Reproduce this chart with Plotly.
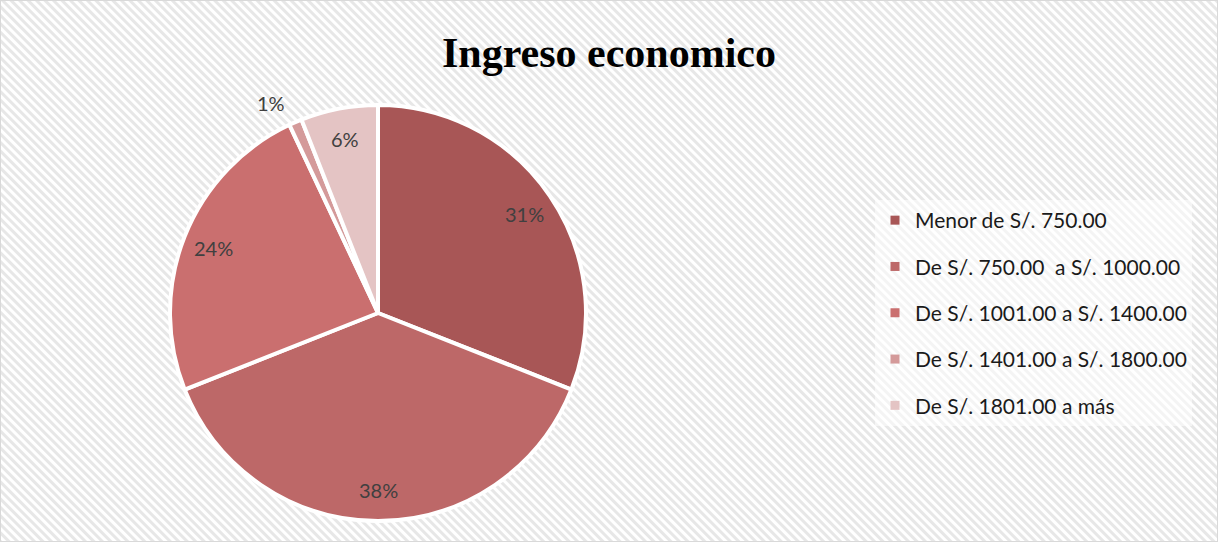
import base64
import numpy as np
import plotly.graph_objects as go

# Income brackets and their share of respondents (%)
categories = [
    "Menor de S/. 750.00",
    "De S/. 750.00  a S/. 1000.00",
    "De S/. 1001.00 a S/. 1400.00",
    "De S/. 1401.00 a S/. 1800.00",
    "De S/. 1801.00 a más",
]
shares = [31, 38, 24, 1, 6]

slice_colors = ["#A85656", "#BD6868", "#CA6F6F", "#D49A9A", "#E4C4C4"]

W, H = 1218, 542

# Pie placement in pixels (centre and radius)
CX, CY, R = 378, 313, 208

# Light diagonal hatch used as the chart background
hatch_svg = f"""<svg xmlns='http://www.w3.org/2000/svg' width='{W}' height='{H}'>
<defs><pattern id='h' width='6' height='6' patternUnits='userSpaceOnUse' patternTransform='rotate(-45)'>
<rect width='6' height='6' fill='#FFFFFF'/><rect width='3' height='6' fill='#E7E7E7'/></pattern></defs>
<rect width='{W}' height='{H}' fill='url(#h)'/></svg>"""
hatch_uri = "data:image/svg+xml;base64," + base64.b64encode(hatch_svg.encode()).decode()

fig = go.Figure()

fig.add_trace(go.Pie(
    labels=categories,
    values=shares,
    sort=False,
    direction="clockwise",
    rotation=0,
    marker=dict(colors=slice_colors, line=dict(color="#FFFFFF", width=4)),
    textinfo="none",
    domain=dict(x=[(CX - R) / W, (CX + R) / W], y=[(H - CY - R) / H, (H - CY + R) / H]),
    showlegend=False,
    hoverinfo="label+percent",
))

# Percentage labels placed along each slice's mid-angle
total = sum(shares)
cum = np.cumsum([0] + shares[:-1])
label_font = dict(family="Lato, Open Sans, sans-serif", size=20, color="#404040")
annotations = []
for start, v in zip(cum, shares):
    theta = np.deg2rad((start + v / 2) / total * 360)
    pct = f"{round(v / total * 100)}%"
    if v / total < 0.03:
        f, xanchor = 1.1, "right"
    else:
        f, xanchor = 0.85, "center"
    px = CX + R * f * np.sin(theta)
    py = CY - R * f * np.cos(theta)
    annotations.append(dict(
        text=pct, x=px / W, y=(H - py) / H, xref="paper", yref="paper",
        xanchor=xanchor, yanchor="middle", showarrow=False, font=label_font,
    ))

# Legend entries, one per bracket, in the slice colours
for name, color in zip(categories, slice_colors):
    fig.add_trace(go.Scatter(
        x=[None], y=[None], mode="markers", name=name,
        marker=dict(symbol="square", size=9, color=color),
        legendgroup=name, showlegend=True,
    ))

fig.update_layout(
    width=W, height=H,
    margin=dict(l=0, r=0, t=0, b=0),
    paper_bgcolor="#FFFFFF",
    plot_bgcolor="rgba(0,0,0,0)",
    title=dict(
        text="<b>Ingreso economico</b>",
        x=0.5, xanchor="center", y=1 - 52 / H, yanchor="middle",
        font=dict(family="Liberation Serif, Times New Roman, serif", size=42, color="#000000"),
    ),
    xaxis=dict(visible=False), yaxis=dict(visible=False),
    legend=dict(
        x=875 / W, xanchor="left", y=(H - 313) / H, yanchor="middle",
        bgcolor="rgba(255,255,255,0.55)",
        font=dict(family="Lato, Open Sans, sans-serif", size=21, color="#1A1A1A"),
        tracegroupgap=16,
        itemclick=False, itemdoubleclick=False,
    ),
    annotations=annotations,
    images=[dict(
        source=hatch_uri, xref="paper", yref="paper", x=0, y=1,
        sizex=1, sizey=1, xanchor="left", yanchor="top",
        sizing="stretch", layer="below",
    )],
    shapes=[dict(
        type="rect", xref="paper", yref="paper", x0=0, y0=0, x1=1, y1=1,
        line=dict(color="#D9D9D9", width=2), fillcolor="rgba(0,0,0,0)",
    )],
)

fig.write_html("out.html")
